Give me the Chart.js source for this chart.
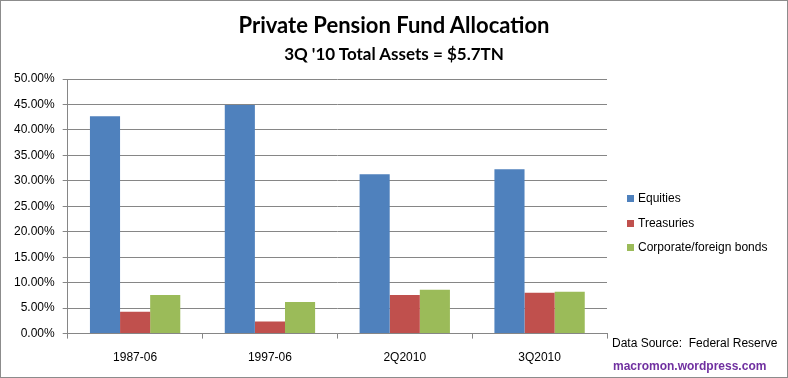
<!DOCTYPE html>
<html>
<head>
<meta charset="utf-8">
<script src="https://cdn.jsdelivr.net/npm/chart.js@4.4.1/dist/chart.umd.min.js"></script>
<style>
  body { margin:0; background:#fff; }
  #wrap { position:relative; width:788px; height:378px; box-sizing:border-box; border:1px solid #8c8c8c; }
  .title { position:absolute; left:0; width:786px; text-align:center; font-family:Lato, sans-serif; font-weight:bold; color:#000; white-space:nowrap; }
  .note, #legend { position:absolute; font-family:"Liberation Sans", Arial, sans-serif; font-size:12px; white-space:nowrap; color:#000; }
  #legend { left:626px; top:191px; }
  #legend div { height:12px; line-height:12px; margin-bottom:12.5px; }
  #legend span { display:inline-block; width:7px; height:7px; margin-right:4px; vertical-align:0px; }
</style>
</head>
<body>
<div id="wrap">
  <canvas id="chart" width="786" height="376"></canvas>
  <div class="title" style="top:11px; font-size:22px; line-height:26px;">Private Pension Fund Allocation</div>
  <div class="title" style="top:43px; font-size:17px; line-height:20px;">3Q '10 Total Assets = $5.7TN</div>
  <div id="legend"></div>
  <div class="note" style="left:611px; top:335px;">Data Source:&nbsp; Federal Reserve</div>
  <div class="note" style="left:612px; top:358px; color:#7030a0; font-weight:bold;">macromon.wordpress.com</div>
</div>
<script>
// values (share of total assets, %)
const periods = ['1987-06', '1997-06', '2Q2010', '3Q2010'];
const equities = [42.7, 44.9, 31.3, 32.3];
const treasuries = [4.3, 2.4, 7.6, 8.0];
const corpBonds = [7.6, 6.2, 8.6, 8.2];

const font = { family: '"Liberation Sans", Arial, sans-serif', size: 12 };

const chart = new Chart(document.getElementById('chart'), {
  type: 'bar',
  data: {
    labels: periods,
    datasets: [
      { label: 'Equities', data: equities, backgroundColor: '#4f81bd' },
      { label: 'Treasuries', data: treasuries, backgroundColor: '#c0504d' },
      { label: 'Corporate/foreign bonds', data: corpBonds, backgroundColor: '#9bbb59' }
    ]
  },
  options: {
    responsive: false,
    animation: false,
    datasets: { bar: { categoryPercentage: 0.67, barPercentage: 1.0 } },
    layout: { padding: { top: 78, left: 5, right: 180, bottom: 0 } },
    plugins: {
      legend: { display: false },
      tooltip: { enabled: false }
    },
    scales: {
      x: {
        grid: { offset: true, drawOnChartArea: false, drawTicks: true, tickLength: 5, color: '#868686' },
        border: { color: '#868686' },
        ticks: { color: '#000', font: font, padding: 12 }
      },
      y: {
        min: 0, max: 50,
        grid: { color: '#868686', tickLength: 5 },
        border: { color: '#868686' },
        ticks: { stepSize: 5, color: '#000', font: font, padding: 8,
                 callback: v => v.toFixed(2) + '%' }
      }
    }
  }
});

// legend on the right, built from the datasets
document.getElementById('legend').innerHTML = chart.data.datasets
  .map(ds => '<div><span style="background:' + ds.backgroundColor + '"></span>' + ds.label + '</div>')
  .join('');
</script>
</body>
</html>
